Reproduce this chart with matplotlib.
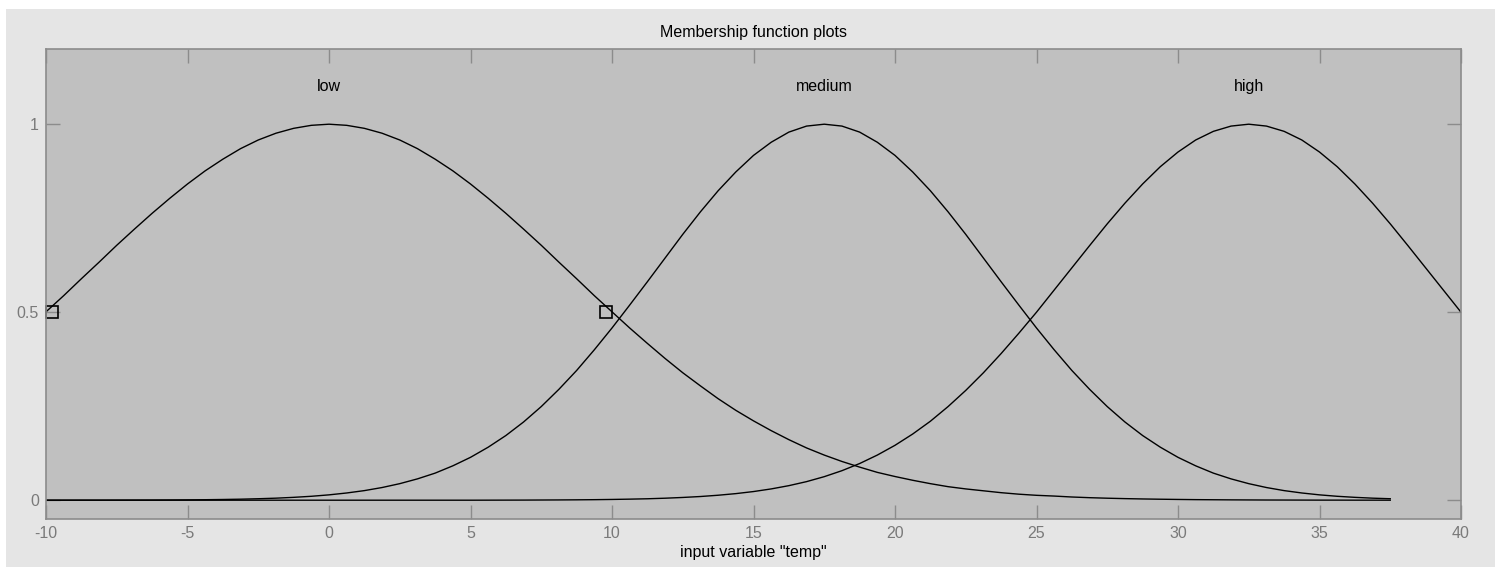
import numpy as np
import matplotlib.pyplot as plt
from matplotlib.patches import Rectangle

step = 0.625
x_low = np.arange(-10, 37.5 + step / 2, step)
low = [0.501, 0.544, 0.589, 0.633, 0.678, 0.721, 0.763, 0.803,
       0.841, 0.876, 0.907, 0.935, 0.958, 0.976, 0.989, 0.997,
       1.0, 0.997, 0.989, 0.976, 0.958, 0.935, 0.907, 0.876,
       0.841, 0.803, 0.763, 0.721, 0.678, 0.633, 0.589, 0.544,
       0.501, 0.458, 0.417, 0.377, 0.339, 0.304, 0.270, 0.239,
       0.211, 0.185, 0.161, 0.139, 0.120, 0.103, 0.088, 0.074,
       0.063, 0.053, 0.044, 0.036, 0.030, 0.025, 0.020, 0.016,
       0.013, 0.011, 0.0085, 0.0067, 0.0053, 0.0042, 0.0033, 0.0026,
       0.0020, 0.0015, 0.0012, 0.0009, 0.0007, 0.0005, 0.0004, 0.0003,
       0.0002, 0.0002, 0.0001, 0.0001, 0.0]

x_medium = np.arange(-10, 37.5 + step / 2, step)
medium = [0.0, 0.0, 0.0001, 0.0001, 0.0002, 0.0003, 0.0004, 0.0006,
          0.0009, 0.0013, 0.0019, 0.0027, 0.0039, 0.0054, 0.0076, 0.0104,
          0.0142, 0.0192, 0.0255, 0.0337, 0.044, 0.0567, 0.072, 0.0914,
          0.114, 0.141, 0.172, 0.208, 0.249, 0.295, 0.345, 0.400,
          0.458, 0.519, 0.581, 0.644, 0.707, 0.767, 0.823, 0.873,
          0.917, 0.952, 0.979, 0.995, 1.0, 0.995, 0.979, 0.952,
          0.917, 0.873, 0.823, 0.767, 0.707, 0.644, 0.581, 0.519,
          0.458, 0.400, 0.345, 0.295, 0.249, 0.208, 0.172, 0.141,
          0.114, 0.0914, 0.072, 0.0567, 0.044, 0.0337, 0.0255, 0.0192,
          0.0142, 0.0104, 0.0076, 0.0054, 0.0039]

x_high = np.arange(-10, 40 + step / 2, step)
high = [0.0, 0.0, 0.0, 0.0, 0.0, 0.0, 0.0, 0.0,
        0.0, 0.0, 0.0, 0.0, 0.0, 0.0, 0.0, 0.0,
        0.0, 0.0, 0.0, 0.0, 0.0, 0.0, 0.0, 0.0,
        0.0, 0.0001, 0.0002, 0.0003, 0.0005, 0.0007, 0.0010, 0.0014,
        0.0020, 0.0028, 0.0038, 0.0053, 0.0073, 0.0098, 0.0132, 0.0175,
        0.0230, 0.0300, 0.0387, 0.0494, 0.0626, 0.0785, 0.0975, 0.120,
        0.146, 0.176, 0.210, 0.249, 0.292, 0.339, 0.390, 0.444,
        0.500, 0.559, 0.618, 0.677, 0.735, 0.790, 0.841, 0.887,
        0.926, 0.958, 0.981, 0.995, 1.0, 0.995, 0.981, 0.958,
        0.926, 0.887, 0.841, 0.790, 0.735, 0.677, 0.618, 0.559,
        0.500]

mf_names = ["low", "medium", "high"]
mf_centers = [0, 17.5, 32.5]
# handle squares of the selected MF
handle_x = [-9.8, 9.8]
handle_y = [0.5, 0.5]

x_ticks = [-10, -5, 0, 5, 10, 15, 20, 25, 30, 35, 40]
y_ticks = [0, 0.5, 1]
y_tick_labels = ["0", "0.5", "1"]

plt.rcParams['font.family'] = ['Liberation Sans', 'DejaVu Sans']
plt.rcParams['axes.unicode_minus'] = False
fs = 11.5

fig = plt.figure(figsize=(14.98, 5.67), dpi=100, facecolor='white')
# light grey panel behind the axes (white strip on top / left)
fig.patches.append(Rectangle((6 / 1498, 0), 1489 / 1498, 558 / 567,
                             transform=fig.transFigure, facecolor='#e5e5e5',
                             edgecolor='none', zorder=-10))

ax = fig.add_axes([46 / 1498, 1 - 519 / 567, 1415 / 1498, 470 / 567])
ax.set_facecolor('#c0c0c0')

for xs, ys in [(x_low, low), (x_medium, medium), (x_high, high)]:
    ax.plot(xs, ys, color='black', lw=1.0)

ax.plot(handle_x, handle_y, ls='none', marker='s', ms=9, mfc='none',
        mec='black', mew=1.2, clip_on=False)

for name, c in zip(mf_names, mf_centers):
    ax.text(c, 1.1, name, ha='center', va='center', fontsize=fs, color='black')

ax.set_xlim(-10, 40)
ax.set_ylim(-0.05, 1.2)
ax.set_xticks(x_ticks)
ax.set_yticks(y_ticks)
ax.set_yticklabels(y_tick_labels)
ax.tick_params(direction='in', length=10, width=1, color='#8c8c8c',
               labelcolor='#7a7a7a', labelsize=fs, pad=5,
               top=True, right=True)
for sp in ax.spines.values():
    sp.set_color('#8c8c8c')
    sp.set_linewidth(1.2)

ax.set_title("Membership function plots", fontsize=fs, pad=9)
ax.set_xlabel('input variable "temp"', fontsize=fs, labelpad=3)

fig.savefig("out.png", dpi=100, facecolor=fig.get_facecolor())
